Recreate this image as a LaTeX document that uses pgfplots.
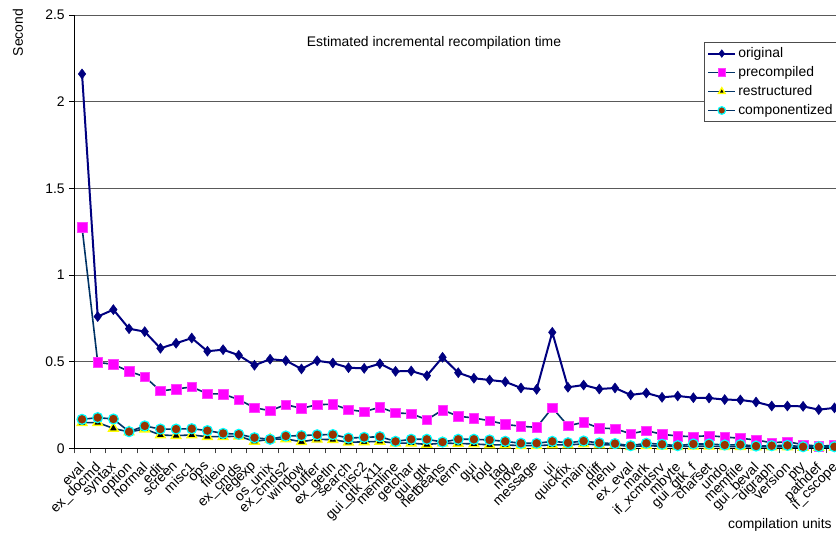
\documentclass[border=0pt]{standalone}
\usepackage{pgfplots}
\pgfplotsset{compat=1.18}
\usepackage{pgfplotstable}
\usepackage{fontspec}
\setmainfont{Liberation Sans}

\definecolor{origblue}{RGB}{0,0,128}
\definecolor{linkblue}{RGB}{0,51,102}
\definecolor{sqmagenta}{RGB}{255,0,255}
\definecolor{dotbrown}{RGB}{153,51,0}
\definecolor{ringcyan}{RGB}{0,255,255}
\definecolor{triyellow}{RGB}{255,255,0}

\newcommand\chartfont{\fontsize{13.9}{16.5}\selectfont}

% seconds per compilation unit, one row per unit (index 0..48)
\pgfplotstableread{
idx orig  prec  restr comp
0   2.160 1.275 0.148 0.167
1   0.760 0.496 0.148 0.177
2   0.800 0.484 0.115 0.169
3   0.690 0.444 0.094 0.096
4   0.673 0.413 0.111 0.129
5   0.577 0.331 0.077 0.111
6   0.606 0.342 0.073 0.111
7   0.636 0.354 0.077 0.113
8   0.560 0.315 0.067 0.102
9   0.569 0.313 0.067 0.086
10  0.537 0.281 0.070 0.081
11  0.479 0.234 0.040 0.061
12  0.514 0.217 0.052 0.052
13  0.506 0.252 0.054 0.071
14  0.458 0.230 0.038 0.073
15  0.505 0.252 0.052 0.078
16  0.492 0.254 0.050 0.079
17  0.465 0.223 0.035 0.059
18  0.461 0.211 0.037 0.063
19  0.488 0.237 0.040 0.067
20  0.444 0.204 0.030 0.040
21  0.446 0.200 0.030 0.052
22  0.419 0.165 0.022 0.052
23  0.525 0.221 0.030 0.036
24  0.436 0.185 0.028 0.052
25  0.404 0.175 0.025 0.052
26  0.394 0.159 0.020 0.048
27  0.384 0.138 0.020 0.040
28  0.348 0.127 0.015 0.029
29  0.340 0.121 0.015 0.029
30  0.669 0.234 0.020 0.040
31  0.352 0.130 0.020 0.032
32  0.365 0.150 0.025 0.042
33  0.342 0.117 0.020 0.031
34  0.348 0.113 0.020 0.027
35  0.308 0.084 0.010 0.015
36  0.319 0.102 0.015 0.029
37  0.294 0.081 0.012 0.023
38  0.302 0.071 0.010 0.015
39  0.292 0.067 0.012 0.025
40  0.290 0.073 0.012 0.025
41  0.281 0.065 0.010 0.019
42  0.279 0.058 0.010 0.021
43  0.267 0.048 0.008 0.013
44  0.244 0.032 0.008 0.015
45  0.244 0.038 0.008 0.017
46  0.242 0.021 0.005 0.009
47  0.223 0.012 0.005 0.009
48  0.233 0.017 0.005 0.009
}\timetable

\begin{document}
\begin{tikzpicture}
\begin{axis}[
  at={(0pt,0pt)}, anchor=south west,
  scale only axis, width=761.8pt, height=433.3pt,
  xmin=-0.5, xmax=48.1, ymin=0, ymax=2.5,
  clip=false,
  axis x line*=bottom, axis y line*=left,
  axis line style={black, line width=0.8pt},
  xtick={0,...,48},
  xticklabels={eval, ex\_docmd, syntax, option, normal, edit, screen, misc1, ops,
    fileio, ex\_cmds, regexp, os\_unix, ex\_cmds2, window, buffer, ex\_getln,
    search, misc2, gui\_gtk\_x11, memline, getchar, gui\_gtk, netbeans, term,
    gui, fold, tag, move, message, ui, quickfix, main, diff, menu, ex\_eval,
    mark, if\_xcmdsrv, mbyte, gui\_gtk\_f, charset, undo, memfile, gui\_beval,
    digraph, version, pty, pathdef, if\_cscope},
  major x tick style={draw=none},
  minor xtick={-0.5,0.5,...,48.5},
  minor x tick style={black!75, line width=0.7pt},
  ytick={0,0.5,1,1.5,2,2.5},
  major y tick style={black, line width=0.8pt},
  tick align=outside,
  major tick length=5pt, minor tick length=5pt,
  ymajorgrids,
  major grid style={black!65, line width=0.8pt},
  tick label style={font=\chartfont},
  yticklabel style={/pgf/number format/fixed,
    /pgf/number format/assume math mode=true, xshift=-1pt},
  xticklabel style={rotate=45, anchor=north east, inner sep=1pt, xshift=-7pt, yshift=-2pt},
  legend style={at={(0.8267,0.9377)}, anchor=north west,
    draw=black!70, line width=0.6pt, fill=white, font=\chartfont,
    inner xsep=3pt, inner ysep=4pt, row sep=4.4pt,
    nodes={inner xsep=2pt, inner ysep=1.5pt}},
  legend cell align=left,
  legend image code/.code={%
    \draw[mark repeat=2, mark phase=2, mark size=3.8pt]
      plot coordinates {(0pt,0pt) (13.5pt,0pt) (27pt,0pt)};},
]
\addplot[color=origblue, line width=2pt, mark=diamond*, mark size=5pt,
  mark options={solid, fill=origblue, draw=origblue, line width=0.5pt}]
  table[x=idx, y=orig] {\timetable};
\addlegendentry{original}
\addplot[color=linkblue, line width=1.6pt, mark=square*, mark size=4.8pt,
  mark options={solid, fill=sqmagenta, draw=sqmagenta!75!white, line width=0.5pt}]
  table[x=idx, y=prec] {\timetable};
\addlegendentry{precompiled}
\addplot[color=linkblue, line width=1.6pt, mark=triangle*, mark size=5.5pt,
  mark options={solid, fill=black, draw=triyellow, line width=1.4pt}]
  table[x=idx, y=restr] {\timetable};
\addlegendentry{restructured}
\addplot[color=linkblue, line width=1.6pt, mark=*, mark size=5pt,
  mark options={solid, fill=dotbrown, draw=ringcyan, line width=1.2pt}]
  table[x=idx, y=comp] {\timetable};
\addlegendentry{componentized}
\end{axis}
\node[font=\chartfont] at (359.8pt,405pt) {Estimated incremental recompilation time};
\node[font=\chartfont, rotate=90] at (-56.2pt,415.8pt) {Second};
\node[font=\chartfont, anchor=base east] at (761pt,-80.7pt) {compilation units};
\pgfresetboundingbox
\path[use as bounding box] (-74.2pt,-86.7pt) rectangle (761.8pt,448.3pt);
\end{tikzpicture}
\end{document}
